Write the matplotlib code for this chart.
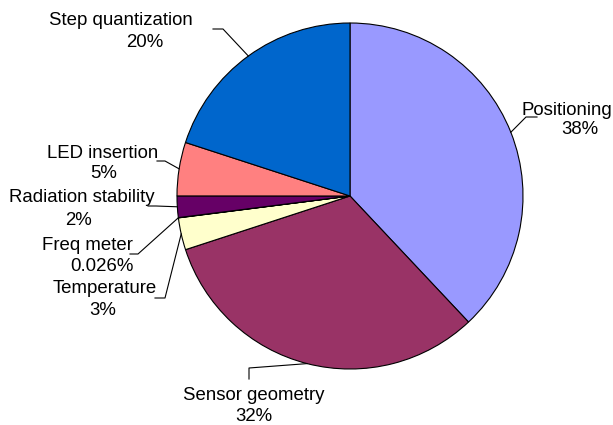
# pie chart of the uncertainty budget, Excel style
import numpy as np
import matplotlib.pyplot as plt

plt.rcParams['font.family'] = ['Liberation Sans', 'DejaVu Sans']

labels = ['Positioning', 'Sensor geometry', 'Temperature', 'Freq meter',
          'Radiation stability', 'LED insertion', 'Step quantization']
pct_text = ['38%', '32%', '3%', '0.026%', '2%', '5%', '20%']
shares = [38, 32, 3, 0.026, 2, 5, 20]
colors = ['#9999FF', '#993366', '#FFFFCC', '#CCFFFF', '#660066', '#FF8080', '#0066CC']

# label layout in pixels (x centre, baseline) for name and percent lines
name_pos = [(567, 115), (254, 400), (105, 293), (87, 250), (82, 202), (103, 158), (121, 25)]
pct_pos = [(580, 134), (254, 421), (103, 315), (102, 271), (78, 225), (104, 178), (145, 47)]
# leader lines: points from the label side, the pie edge is added at the end
elbows = [[(537, 117), (526, 117)],
          [(249, 379), (249, 368)],
          [(155, 298), (165, 298)],
          [(130, 254), (138, 254)],
          [(148, 206), (156, 206)],
          [(157, 161), (165, 161)],
          [(213, 29), (223, 29)]]

cx, cy, R = 350, 196, 173

fig = plt.figure(figsize=(6.13, 4.25), dpi=100)
ax = fig.add_axes([0, 0, 1, 1])
wedges, _ = ax.pie(shares, colors=colors, startangle=-90, counterclock=True,
                   center=(cx, cy), radius=R,
                   wedgeprops=dict(edgecolor='black', linewidth=0.8))
ax.set_xlim(0, 613)
ax.set_ylim(425, 0)
ax.set_aspect('equal')
ax.axis('off')

for w, name, pct, npos, ppos, el in zip(wedges, labels, pct_text, name_pos, pct_pos, elbows):
    th = np.deg2rad((w.theta1 + w.theta2) / 2)
    edge = (cx + R * np.cos(th), cy + R * np.sin(th))
    pts = el + [edge]
    ax.plot([p[0] for p in pts], [p[1] for p in pts], color='black', lw=0.8)
    ax.text(npos[0], npos[1], name, ha='center', va='baseline', fontsize=13.4)
    ax.text(ppos[0], ppos[1], pct, ha='center', va='baseline', fontsize=13.4)

fig.savefig('out.png', dpi=100)
